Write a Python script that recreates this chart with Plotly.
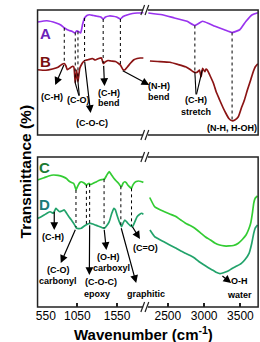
import numpy as np
import plotly.graph_objects as go

# ---------------- data (wavenumber in cm-1, transmittance a.u.) ----------------
A_left_w = [550, 667, 784, 842, 889, 948, 983, 1018, 1041, 1065, 1092, 1117, 1141, 1170, 1205, 1252, 1299,
            1345, 1375, 1404, 1451, 1497, 1544, 1591, 1626, 1684, 1743, 1801, 1880]
A_left_t = [90.4, 91.4, 89.6, 88.0, 85.6, 83.6, 83.0, 81.6, 83.2, 82.8, 81.6, 88.8, 93.6, 95.6, 96.2, 95.6, 95.0,
            94.4, 92.8, 94.4, 95.2, 95.0, 94.4, 92.8, 94.8, 96.2, 97.2, 97.6, 97.8]
A_right_w = [2231, 2423, 2590, 2765, 2872, 2978, 3064, 3150, 3278, 3385, 3491, 3577, 3663, 3740]
A_right_t = [97.6, 96.2, 93.6, 91.0, 87.6, 91.0, 89.2, 87.0, 84.2, 82.0, 84.2, 91.0, 96.2, 97.8]

B_left_w = [550, 655, 737, 807, 854, 886, 907, 924, 959, 983, 1006, 1024, 1041, 1058, 1080, 1106, 1123, 1147,
            1182, 1217, 1240, 1275, 1318, 1353, 1377, 1398, 1435, 1474, 1529, 1568, 1591, 1626, 1649, 1684,
            1720, 1761, 1801, 1840, 1880]
B_left_t = [52.2, 51.8, 52.8, 54.2, 56.4, 57.2, 55.2, 52.2, 53.6, 54.8, 54.4, 41.6, 52.0, 42.6, 53.2, 56.8, 58.4,
            59.6, 60.2, 60.8, 61.2, 60.0, 61.2, 61.6, 57.2, 58.4, 59.6, 59.2, 58.8, 57.2, 56.0, 52.2, 52.2, 54.8,
            57.6, 60.2, 61.2, 61.6, 61.6]
B_right_w = [2253, 2359, 2529, 2641, 2744, 2808, 2850, 2894, 2923, 2936, 2958, 2978, 2994, 3009, 3026, 3043,
             3077, 3128, 3167, 3214, 3256, 3299, 3340, 3385, 3423, 3471, 3513, 3555, 3596, 3641, 3680, 3705, 3740]
B_right_t = [59.2, 58.8, 58.2, 56.4, 54.6, 52.4, 50.6, 50.0, 51.2, 52.0, 46.6, 53.4, 52.0, 50.6, 52.8, 52.0,
             48.0, 41.4, 34.4, 28.0, 22.4, 17.4, 13.2, 11.4, 12.0, 14.6, 21.6, 28.0, 36.0, 44.0, 51.2, 54.6, 57.0]

C_left_w = [550, 632, 690, 749, 807, 866, 913, 944, 977, 1003, 1018, 1033, 1047, 1061, 1082, 1100, 1123, 1138,
            1166, 1182, 1197, 1211, 1228, 1275, 1334, 1369, 1392, 1421, 1451, 1480, 1509, 1539, 1568, 1591,
            1606, 1626, 1646, 1667, 1684, 1708, 1731, 1743, 1763, 1790, 1822, 1849, 1880]
C_left_t = [84.7, 86.2, 87.3, 88.0, 87.7, 86.9, 85.7, 84.0, 83.0, 82.5, 80.7, 78.0, 79.7, 81.3, 83.0, 83.5, 83.0,
            82.5, 81.3, 82.0, 82.5, 81.7, 81.8, 83.1, 84.7, 85.0, 85.3, 88.0, 90.2, 88.0, 85.8, 84.0, 82.5, 80.7,
            80.2, 82.7, 83.5, 82.7, 81.3, 80.0, 79.1, 80.7, 82.5, 83.7, 84.0, 83.7, 83.1]
C_right_w = [2250, 2317, 2385, 2445, 2526, 2615, 2679, 2744, 2808, 2872, 2958, 3019, 3086, 3147, 3214, 3276,
             3342, 3404, 3471, 3526, 3577, 3615, 3641, 3667, 3683, 3705, 3735]
C_right_t = [73.0, 66.9, 65.0, 63.7, 62.0, 60.2, 58.0, 55.8, 54.3, 52.5, 49.1, 46.7, 44.7, 42.7, 41.3, 40.7,
             40.7, 41.0, 42.5, 45.0, 48.0, 52.0, 55.8, 63.3, 69.1, 72.7, 74.0]

D_left_w = [550, 591, 632, 673, 710, 749, 780, 801, 827, 854, 886, 913, 944, 971, 1003, 1024, 1041, 1065, 1100,
            1129, 1158, 1187, 1217, 1246, 1275, 1304, 1334, 1363, 1392, 1421, 1451, 1480, 1509, 1529, 1548,
            1574, 1606, 1626, 1646, 1667, 1684, 1714, 1743, 1772, 1801, 1831, 1860, 1880]
D_left_t = [59.1, 60.0, 61.3, 62.7, 63.5, 62.5, 65.8, 64.7, 63.5, 64.0, 64.7, 62.7, 60.2, 58.3, 55.8, 54.0, 52.5,
            52.3, 52.5, 53.7, 54.7, 55.5, 55.8, 55.3, 54.7, 54.1, 53.5, 52.8, 52.5, 54.3, 56.9, 62.0, 65.8,
            64.7, 61.3, 57.3, 53.5, 56.0, 58.0, 57.0, 55.8, 54.3, 53.5, 56.7, 60.2, 61.7, 62.5, 61.8]
D_right_w = [2253, 2317, 2385, 2445, 2526, 2615, 2679, 2744, 2808, 2872, 2936, 3000, 3064, 3128, 3173, 3218,
             3256, 3295, 3342, 3385, 3449, 3513, 3564, 3619, 3654, 3683, 3705, 3735]
D_right_t = [51.3, 46.9, 45.0, 43.5, 41.3, 39.1, 37.3, 35.8, 34.3, 32.5, 30.0, 28.0, 26.0, 24.3, 23.0, 22.3,
             22.7, 23.3, 24.3, 25.7, 27.3, 29.1, 31.7, 35.8, 42.0, 49.1, 52.7, 54.7]

peaks_AB_left = [886, 1024, 1058, 1141, 1375, 1591]
peaks_AB_right = [2872, 3385]
peaks_CD_left = [1033, 1164, 1205, 1386, 1597, 1731]

x_ticks_left = [550, 1050, 1550]
x_ticklabels_left = ["&nbsp;&nbsp;&nbsp;&nbsp;&nbsp;550", "1050", "1550"]
x_ticks_right = [2500, 3000, 3500]

# ---------------- colours ----------------
colA, colB, colC, colD = "#9933ee", "#8b1414", "#33cc33", "#22a36b"
labA, labB, labC, labD = "#6a22b8", "#7a1010", "#1c7a32", "#1a7a78"
FONT = "Liberation Sans, Arial, sans-serif"

W, H = 260, 342
def px(x): return x / W
def py(y): return 1 - y / H

xL = [px(21), px(137)]
xR = [px(137), px(258)]
yT = [py(135), py(10)]
yB = [py(307), py(157)]
rngL = [550, 1907]
rngR = [2192, 3744]

fig = go.Figure()
def add(wv, tv, col, xa, ya):
    fig.add_trace(go.Scatter(x=wv, y=tv, mode="lines", xaxis=xa, yaxis=ya,
                             line=dict(color=col, width=1.7, shape="spline", smoothing=0.4),
                             showlegend=False, hoverinfo="skip"))

add(A_left_w, A_left_t, colA, "x", "y")
add(A_right_w, A_right_t, colA, "x2", "y")
add(B_left_w, B_left_t, colB, "x", "y")
add(B_right_w, B_right_t, colB, "x2", "y")
add(C_left_w, C_left_t, colC, "x3", "y2")
add(C_right_w, C_right_t, colC, "x4", "y2")
add(D_left_w, D_left_t, colD, "x3", "y2")
add(D_right_w, D_right_t, colD, "x4", "y2")

shapes = []
# dotted guide lines between curves
for w in peaks_AB_left:
    shapes.append(dict(type="line", xref="x", yref="y", x0=w, x1=w,
                       y0=np.interp(w, A_left_w, A_left_t), y1=np.interp(w, B_left_w, B_left_t),
                       line=dict(color="black", width=1, dash="dot")))
for w in peaks_AB_right:
    shapes.append(dict(type="line", xref="x2", yref="y", x0=w, x1=w,
                       y0=np.interp(w, A_right_w, A_right_t), y1=np.interp(w, B_right_w, B_right_t),
                       line=dict(color="black", width=1, dash="dot")))
for w in peaks_CD_left:
    shapes.append(dict(type="line", xref="x3", yref="y2", x0=w, x1=w,
                       y0=np.interp(w, C_left_w, C_left_t), y1=np.interp(w, D_left_w, D_left_t),
                       line=dict(color="black", width=1, dash="dot")))

# V-shaped pointer lines (no heads)
def seg(xr, yr, x0, y0, x1, y1):
    shapes.append(dict(type="line", xref=xr, yref=yr, x0=x0, y0=y0, x1=x1, y1=y1,
                       line=dict(color="black", width=1.1)))
seg("x", "y", 1024, 41.6, 1070, 31.5)
seg("x", "y", 1058, 42.6, 1075, 31.5)
seg("x2", "y", 2872, 50.4, 2888, 32.5)
seg("x2", "y", 2974, 52.0, 2895, 32.5)

# panel frames
for (y0, y1) in [(yT[0], yT[1]), (yB[0], yB[1])]:
    shapes.append(dict(type="rect", xref="paper", yref="paper", x0=xL[0], x1=xR[1], y0=y0, y1=y1,
                       line=dict(color="#222", width=1.5), fillcolor="rgba(0,0,0,0)"))
# axis break marks //
for yb in [10, 135, 157, 307]:
    shapes.append(dict(type="line", xref="paper", yref="paper", x0=px(134.5), x1=px(139.5),
                       y0=py(yb), y1=py(yb), line=dict(color="white", width=3)))
    for xo in [133, 137.5]:
        shapes.append(dict(type="line", xref="paper", yref="paper", x0=px(xo - 1), x1=px(xo + 3),
                           y0=py(yb + 5), y1=py(yb - 5), line=dict(color="#222", width=1.2)))

ann = []
def txt(s, xr, yr, x, y, size=9, col="black"):
    ann.append(dict(text="<b>%s</b>" % s, xref=xr, yref=yr, x=x, y=y, showarrow=False,
                    font=dict(family=FONT, size=size, color=col), xanchor="center", yanchor="middle"))
def arrow(xr, yr, x, y, ax, ay, pixel=False):
    d = dict(text="", xref=xr, yref=yr, x=x, y=y, ax=ax, ay=ay, showarrow=True,
             arrowhead=2, arrowsize=1.3, arrowwidth=1.2, arrowcolor="black", standoff=0)
    if not pixel:
        d.update(axref=xr, ayref=yr)
    ann.append(d)

# top panel
txt("A", "x", "y", 644, 81.2, 15, labA)
txt("B", "x", "y", 644, 58.4, 15, labB)
arrow("x", "y", 772, 40, 889, 57.2)
txt("(C-H)", "x", "y", 737, 30.4)
txt("(C-O)", "x", "y", 1065, 28)
arrow("x", "y", 1217, 17.6, 1141, 59.6)
txt("(C-O-C)", "x", "y", 1240, 9.2)
arrow("x", "y", 1392, 39.2, 1380, 56.5)
txt("(C-H)", "x", "y", 1451, 33.4)
txt("bend", "x", "y", 1451, 25.8)
arrow("x2", "y", 2244, 40, -28, -15, pixel=True)
txt("(N-H)", "x2", "y", 2381, 39.2)
txt("bend", "x2", "y", 2381, 30.2)
txt("(C-H)", "x2", "y", 2894, 28)
txt("stretch", "x2", "y", 2894, 18.6)
txt("(N-H, H-OH)", "x2", "y", 3385, 5.4)

# bottom panel
txt("C", "x3", "y2", 632, 93.3, 15, labC)
txt("D", "x3", "y2", 632, 68.5, 15, labD)
arrow("x3", "y2", 760, 51.3, 760, 64.5)
txt("(C-H)", "x3", "y2", 749, 46.7)
arrow("x3", "y2", 842, 29.3, 1033, 52.5)
txt("(C-O)", "x3", "y2", 811, 24.7)
txt("carbonyl", "x3", "y2", 811, 17.3)
arrow("x3", "y2", 1201, 21.3, 1205, 55.5)
txt("(C-O-C)", "x3", "y2", 1345, 16.7)
txt("epoxy", "x3", "y2", 1298, 8.7)
arrow("x3", "y2", 1415, 38, 1386, 52.5)
txt("(O-H)", "x3", "y2", 1440, 33.3)
txt("carboxyl", "x3", "y2", 1480, 26)
arrow("x3", "y2", 1837, 45.3, 1731, 54.5)
txt("(C=O)", "x3", "y2", 1907, 39.3)
arrow("x3", "y2", 1790, 16, 1597, 53.5)
txt("C-C", "x3", "y2", 1955, 16.7)
txt("graphitic", "x3", "y2", 1907, 8.7)
arrow("x4", "y2", 3372, 16, 3231, 21.5)
txt("O-H", "x4", "y2", 3487, 17.3)
txt("water", "x4", "y2", 3487, 8.3)

# axis titles
ann.append(dict(text="<b>Wavenumber (cm<sup>-1</sup>)</b>", xref="paper", yref="paper", x=px(135), y=py(333),
                showarrow=False, font=dict(family=FONT, size=15, color="black"), xanchor="center", yanchor="middle"))
ann.append(dict(text="<b>Transmittance (%)</b>", xref="paper", yref="paper", x=px(8), y=py(171), textangle=-90,
                showarrow=False, font=dict(family=FONT, size=15.5, color="black"), xanchor="center", yanchor="middle"))

hidden = dict(visible=False, showgrid=False, zeroline=False)
tickax = dict(showgrid=False, zeroline=False, showline=False, ticks="inside", ticklen=4, tickwidth=1.5,
              tickcolor="#222", tickfont=dict(family=FONT, size=12, color="black"))

fig.update_layout(
    width=W, height=H, margin=dict(l=0, r=0, t=0, b=0),
    paper_bgcolor="white", plot_bgcolor="rgba(0,0,0,0)",
    xaxis=dict(domain=xL, range=rngL, anchor="y", **hidden),
    xaxis2=dict(domain=xR, range=rngR, anchor="y", **hidden),
    xaxis3=dict(domain=xL, range=rngL, anchor="y2", tickvals=x_ticks_left, ticktext=x_ticklabels_left, **tickax),
    xaxis4=dict(domain=xR, range=rngR, anchor="y2", tickvals=x_ticks_right, **tickax),
    yaxis=dict(domain=yT, range=[0, 100], anchor="x", **hidden),
    yaxis2=dict(domain=yB, range=[0, 100], anchor="x3", **hidden),
    shapes=shapes, annotations=ann, showlegend=False,
)
fig.write_html("out.html", config={"displayModeBar": False},
               post_script="document.body.style.margin='0px';document.body.style.overflow='hidden';")
